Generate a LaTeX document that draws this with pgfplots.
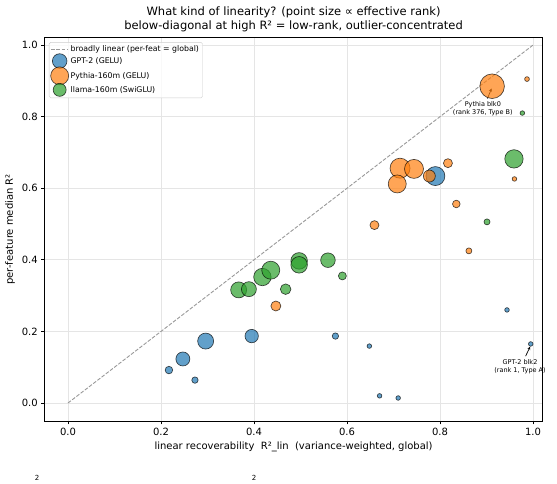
\documentclass[border=0pt]{standalone}
\usepackage{fontspec}
\setmainfont{DejaVu Sans}
\usepackage{pgfplots}
\usepackage{pgfplotstable}
\pgfplotsset{compat=1.18}
\usetikzlibrary{arrows.meta}
\definecolor{mblue}{HTML}{1F77B4}
\definecolor{morange}{HTML}{FF7F0E}
\definecolor{mgreen}{HTML}{2CA02C}

\pgfplotstableread{
x y r
0.217 0.092 3.8
0.247 0.123 7
0.296 0.173 8
0.273 0.064 3.2
0.395 0.187 6.7
0.575 0.187 3.2
0.648 0.159 2.3
0.670 0.020 2.3
0.710 0.014 2.3
0.944 0.260 2.3
0.995 0.165 2.3
0.790 0.634 9.5
}\gpt

\pgfplotstableread{
x y r
0.912 0.885 12.3
0.987 0.905 2.4
0.714 0.656 10
0.744 0.654 9.5
0.708 0.612 9
0.777 0.634 6
0.817 0.670 4.5
0.835 0.556 3.8
0.659 0.497 4.5
0.960 0.626 2.3
0.862 0.425 3
0.447 0.271 5
}\pyth

\pgfplotstableread{
x y r
0.367 0.316 8
0.389 0.318 7.5
0.418 0.352 8.7
0.436 0.371 9
0.497 0.397 8.3
0.497 0.386 8.3
0.559 0.399 7.3
0.590 0.355 4
0.468 0.318 5.3
0.959 0.682 9.2
0.901 0.506 3
0.977 0.810 2.3
}\llama

\pgfplotsset{
  bubble/.style={scatter, only marks, mark=*,
    scatter/use mapped color={draw=black, fill=#1},
    mark options={fill opacity=0.7, draw opacity=0.7, line width=0.65pt},
    visualization depends on={\thisrow{r} \as \rad},
    scatter/@pre marker code/.append style={/tikz/mark size=\rad},
    forget plot},
}

\begin{document}
\begin{tikzpicture}[x=1pt,y=1pt]
\useasboundingbox (0,0) rectangle (557,483);
\begin{axis}[
  at={(44.75pt,62.1pt)}, anchor=south west,
  width=497.6pt, height=383pt, scale only axis,
  xmin=-0.05, xmax=1.02, ymin=-0.05, ymax=1.02,
  clip=false,
  xtick={0,0.2,0.4,0.6,0.8,1.0},
  ytick={0,0.2,0.4,0.6,0.8,1.0},
  /pgf/number format/assume math mode=true,
  /pgf/number format/.cd, fixed, fixed zerofill, precision=1, /pgfplots/.cd,
  tick label style={font=\fontsize{10}{12}\selectfont},
  grid=major, major grid style={black!10, line width=0.7pt},
  tick align=outside, tick pos=left, major tick length=3.5pt,
  every tick/.style={black, line width=0.8pt},
  axis line style={black, line width=0.8pt},
  xlabel={linear recoverability\ \ R²\_lin\ \ (variance-weighted, global)},
  ylabel={per-feature median R²},
  label style={font=\fontsize{10}{12}\selectfont},
  title={What kind of linearity? (point size ∝ effective rank)\\below-diagonal at high R² = low-rank, outlier-concentrated},
  title style={align=center, font=\fontsize{11.5}{14.2}\selectfont, yshift=-4pt},
  legend style={at={(rel axis cs:0.0085,0.989)}, anchor=north west,
    font=\fontsize{7.8}{9.4}\selectfont, draw=black!20, rounded corners=1.5pt,
    fill=white, fill opacity=0.8, text opacity=1, inner sep=1.5pt,
    row sep=-1.5pt, cells={anchor=west}},
  legend cell align=left,
]
\addplot[color=black!40, line width=0.9pt, dash pattern=on 3.7pt off 1.6pt] coordinates {(0,0) (1,1)};
\addlegendentry{broadly linear (per-feat = global)}

\addplot[bubble=mblue] table {\gpt};
\addplot[bubble=morange] table {\pyth};
\addplot[bubble=mgreen] table {\llama};

\addlegendimage{only marks, mark=*, mark size=7.3pt, mark options={fill=mblue, fill opacity=0.7, draw=black, draw opacity=0.7, line width=0.65pt}}
\addlegendentry{GPT-2 (GELU)}
\addlegendimage{only marks, mark=*, mark size=9pt, mark options={fill=morange, fill opacity=0.7, draw=black, draw opacity=0.7, line width=0.65pt}}
\addlegendentry{Pythia-160m (GELU)}
\addlegendimage{only marks, mark=*, mark size=6.5pt, mark options={fill=mgreen, fill opacity=0.7, draw=black, draw opacity=0.7, line width=0.65pt}}
\addlegendentry{llama-160m (SwiGLU)}

\node[align=center, anchor=north, inner sep=0pt, font=\fontsize{6.5}{7.8}\selectfont] at (axis cs:0.892,0.843) {Pythia blk0\\(rank 376, Type B)};
\draw[-{Stealth[length=3.5pt,width=3pt]}, line width=0.7pt] (axis cs:0.902,0.851) -- (axis cs:0.911,0.879);
\node[align=center, anchor=north, inner sep=0pt, font=\fontsize{6.5}{7.8}\selectfont] at (axis cs:0.972,0.121) {GPT-2 blk2\\(rank 1, Type A)};
\draw[-{Stealth[length=3.5pt,width=3pt]}, line width=0.7pt] (axis cs:0.984,0.131) -- (axis cs:0.994,0.158);
\end{axis}
\node[anchor=north, inner sep=0pt, font=\fontsize{7}{8}\selectfont] at (37,8) {2};
\node[anchor=north, inner sep=0pt, font=\fontsize{7}{8}\selectfont] at (254,8) {2};
\end{tikzpicture}
\end{document}
